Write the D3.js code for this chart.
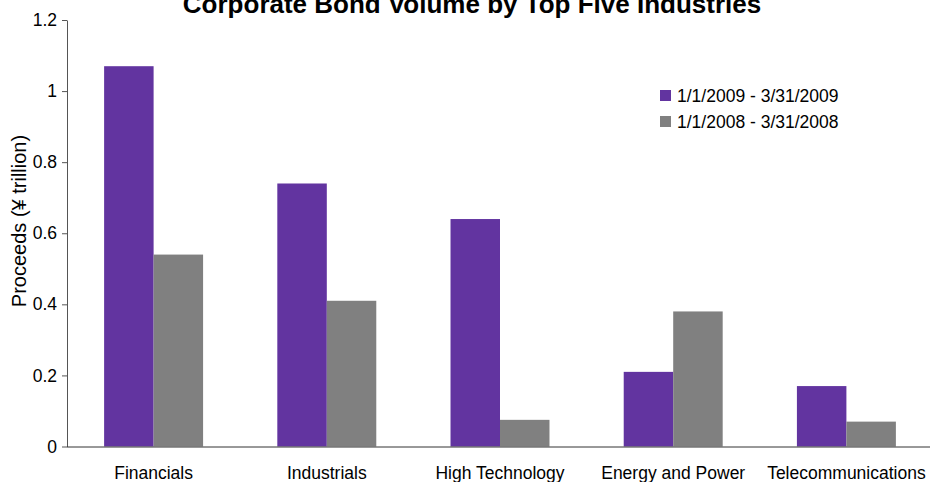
<!DOCTYPE html>
<html>
<head>
<meta charset="utf-8">
<script src="https://cdn.jsdelivr.net/npm/d3@7/dist/d3.min.js"></script>
<style>
  html, body { margin: 0; padding: 0; background: #fff; }
  svg { display: block; font-family: "Liberation Sans", Arial, sans-serif; }
</style>
</head>
<body>
<svg id="chart" width="930" height="482"></svg>
<script>
// Corporate bond proceeds (¥ trillion) by industry, Q1 2009 vs Q1 2008
const categories = ["Financials", "Industrials", "High Technology", "Energy and Power", "Telecommunications"];
const seriesNames = ["1/1/2009 - 3/31/2009", "1/1/2008 - 3/31/2008"];
const values2009 = [1.07, 0.74, 0.64, 0.21, 0.17];
const values2008 = [0.54, 0.41, 0.075, 0.38, 0.07];
const seriesColors = ["#6234a0", "#808080"];
const yTicks = [0, 0.2, 0.4, 0.6, 0.8, 1, 1.2];

const seriesValues = [values2009, values2008];
const FONT = "Liberation Sans, Arial, sans-serif";
const textSize = 17.5;

const svg = d3.select("#chart");
const plotLeft = 67, plotRight = 933, plotTop = 20, plotBottom = 446.5;

const x0 = d3.scaleBand().domain(categories).range([plotLeft, plotRight])
  .paddingInner(3 / 7).paddingOuter(3 / 14);
const x1 = d3.scaleBand().domain(seriesNames).range([0, x0.bandwidth()]);
const y = d3.scaleLinear().domain([0, 1.2]).range([plotBottom, plotTop]);

// Title
svg.append("text")
  .attr("x", 472).attr("y", 13)
  .attr("text-anchor", "middle")
  .attr("font-size", 26).attr("font-weight", "bold")
  .attr("fill", "#000")
  .text("Corporate Bond Volume by Top Five Industries");

// Bars
const groups = svg.append("g").selectAll("g")
  .data(categories)
  .join("g")
  .attr("transform", d => `translate(${x0(d)},0)`);

groups.selectAll("rect")
  .data((c, i) => seriesNames.map((s, k) => ({ s, k, v: seriesValues[k][i] })))
  .join("rect")
  .attr("x", d => x1(d.s))
  .attr("width", x1.bandwidth())
  .attr("y", d => y(d.v))
  .attr("height", d => y(0) - y(d.v))
  .attr("fill", d => seriesColors[d.k]);

// Y axis
const yAxis = svg.append("g")
  .attr("transform", `translate(${plotLeft},0)`)
  .call(d3.axisLeft(y).tickValues(yTicks).tickSize(5).tickPadding(5)
    .tickFormat(d3.format("~g")).tickSizeOuter(0));
yAxis.select(".domain").attr("stroke", "#555");
yAxis.selectAll(".tick line").attr("stroke", "#555");
yAxis.selectAll(".tick text").attr("font-size", textSize).attr("fill", "#000")
  .attr("font-family", FONT);

// X axis baseline and category labels
const xAxis = svg.append("g")
  .attr("transform", `translate(0,${plotBottom})`)
  .call(d3.axisBottom(x0).tickSize(0).tickPadding(20).tickSizeOuter(0));
xAxis.select(".domain").attr("stroke", "#333").attr("d", `M${plotLeft},0.5H930`);
xAxis.selectAll(".tick text").attr("font-size", textSize).attr("fill", "#000")
  .attr("font-family", FONT);

// Y axis title
svg.append("text")
  .attr("transform", `translate(26,221) rotate(-90)`)
  .attr("text-anchor", "middle")
  .attr("font-size", 20).attr("fill", "#000")
  .text("Proceeds (¥ trillion)");

// Legend
const legend = svg.append("g").attr("transform", "translate(660,90)");
const items = legend.selectAll("g").data(seriesNames).join("g")
  .attr("transform", (d, i) => `translate(0,${i * 26})`);
items.append("rect").attr("width", 11).attr("height", 11)
  .attr("fill", (d, i) => seriesColors[i]);
items.append("text").attr("x", 17).attr("y", 12)
  .attr("font-size", textSize).attr("fill", "#000").text(d => d);
</script>
</body>
</html>
